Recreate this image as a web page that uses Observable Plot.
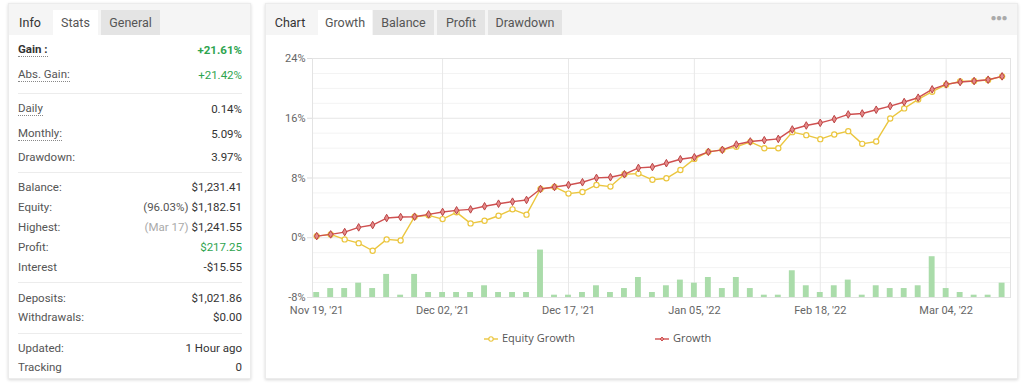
<!DOCTYPE html>
<html><head><meta charset="utf-8">
<script src="https://cdn.jsdelivr.net/npm/d3@7"></script>
<script src="https://cdn.jsdelivr.net/npm/@observablehq/plot@0.6"></script>
<style>
body{margin:0;background:#fff;font-family:Roboto,sans-serif;width:1024px;height:383px;overflow:hidden;position:relative}
.panel{position:absolute;background:#fff;box-shadow:0 1px 3px rgba(0,0,0,.16);border:1px solid #ececec;box-sizing:border-box}
.tabbar{position:absolute;left:0;right:0;top:0;height:31px;background:#f5f5f5}
.tab{position:absolute;top:6px;height:25px;line-height:25px;font-size:12.5px;color:#555;text-align:center}
.tab.active{background:#fff}
.tab.off{background:#e4e4e4}
.tab.title{color:#333}
.row{position:absolute;left:9px;right:8px;height:16px;line-height:16px;font-size:11.5px}
.row .l{position:absolute;left:0;color:#555}
.row .v{position:absolute;right:0;color:#333}
.row .l.u{border-bottom:1px dotted #888;line-height:14px}
.row .l.b{font-weight:bold;color:#333}
.green{color:#2ea44f !important}
.sep{position:absolute;left:9px;right:8px;height:1px;background:#ececec}
.dots{position:absolute;right:10px;top:8px;font-size:10px;color:#aaa;letter-spacing:-0.5px}
#legend{position:absolute;top:330px;left:0;width:1024px;height:16px;font-family:"Open Sans",sans-serif;font-size:11px;color:#555}
#legend .item{position:absolute;top:0;height:16px;line-height:16px}
#legend svg{vertical-align:middle;margin-right:4px}
</style></head>
<body>
<div class="panel" id="left" style="left:8px;top:3px;width:243px;height:376px"></div>
<div class="panel" id="right" style="left:265px;top:3px;width:753px;height:376px"></div>
<div id="chart" style="position:absolute;left:265px;top:45px"></div>
<div id="legend"></div>
<script>
// ---------- data ----------
const growth = [0.22,0.45,0.76,1.39,1.70,2.64,2.77,2.82,3.13,3.45,3.67,3.80,4.21,4.56,4.83,5.06,6.53,6.80,7.07,7.43,8.01,8.10,8.50,9.35,9.47,9.98,10.51,10.78,11.50,11.77,12.48,12.89,13.06,13.24,14.50,15.03,15.39,15.88,16.51,16.64,17.14,17.63,18.17,18.75,19.87,20.54,20.85,20.98,21.16,21.61];
const equityGrowth = [0.22,0.45,-0.22,-0.72,-1.74,-0.22,-0.36,2.82,3.0,2.5,3.40,1.92,2.28,2.95,3.80,3.09,6.53,6.80,5.91,6.13,7.07,6.85,8.50,8.59,7.76,7.96,9.08,10.56,11.50,11.77,12.17,12.84,11.99,11.99,14.14,13.74,13.20,13.83,14.27,12.57,12.89,15.97,17.32,18.52,19.55,20.49,20.94,20.98,21.12,21.61];
const dailyBars = [0.67,1.2,1.2,1.92,1.2,3.09,0.31,3.09,0.67,0.67,0.67,0.67,1.57,0.67,0.67,0.67,6.35,0.31,0.31,0.67,1.57,0.67,1.2,2.68,0.67,1.57,2.33,1.92,2.68,1.2,2.68,1.2,0.31,0.31,3.58,1.57,0.67,1.57,2.33,0.31,1.57,1.2,1.2,1.57,5.46,1.2,0.67,0.31,0.31,1.92];
const tickIndex = [0,9,18,27,36,45];
const tickLabels = ["Nov 19, '21","Dec 02, '21","Dec 17, '21","Jan 05, '22","Feb 18, '22","Mar 04, '22"];
const yTicks = [-8,0,8,16,24];
const yMinor = [-6,-4,-2,2,4,6,10,12,14,18,20,22];
const seriesNames = ["Equity Growth","Growth"];

const leftTabs = ["Info","Stats","General"];
const rightTabs = ["Chart","Growth","Balance","Profit","Drawdown"];
const statLabels = ["Gain :","Abs. Gain:","Daily","Monthly:","Drawdown:","Balance:","Equity:","Highest:","Profit:","Interest","Deposits:","Withdrawals:","Updated:","Tracking"];
const statValues = ["+21.61%","+21.42%","0.14%","5.09%","3.97%","$1,231.41","$1,182.51","$1,241.55","$217.25","-$15.55","$1,021.86","$0.00","1 Hour ago","0"];
const statNotes = ["","","","","","","(96.03%)","(Mar 17)","","","","","",""];

// ---------- layout helpers ----------
function el(tag, cls, parent, style, text){const e=document.createElement(tag); if(cls) e.className=cls; if(style) e.setAttribute("style",style); if(text!=null) e.textContent=text; parent.appendChild(e); return e;}

// left panel
const L = document.getElementById("left");
const lb = el("div","tabbar",L);
const ltabPos = [[4,34],[44,45],[92,59]];
leftTabs.forEach((t,i)=>{el("div","tab "+(i===0?"title":i===1?"active":"off"),lb,`left:${ltabPos[i][0]}px;width:${ltabPos[i][1]}px`,t);});
const rowY = [38,63,97,122,145,175,195,215,235,255,286,305,336,355];
const underlined = [0,1,2,3];
statLabels.forEach((lab,i)=>{
  const r = el("div","row",L,`top:${rowY[i]}px`);
  el("span","l"+(underlined.includes(i)?" u":"")+(i===0?" b":""),r,null,lab);
  const v = el("span","v",r,null,"");
  if(statNotes[i]) el("span",null,v,`color:${i===7?"#aaa":"#555"};margin-right:3px`,statNotes[i]);
  el("span",null,v,null,statValues[i]);
  if(i===0){v.style.fontWeight="bold"; v.classList.add("green");}
  if(i===1||i===8) v.classList.add("green");
});
[89,168,278,329].forEach(y=>el("div","sep",L,`top:${y}px`));

// right panel
const R = document.getElementById("right");
const rb = el("div","tabbar",R);
const rtabPos = [[4,40],[52,54],[107,61],[171,48],[222,74]];
rightTabs.forEach((t,i)=>{el("div","tab "+(i===0?"title":i===1?"active":"off"),rb,`left:${rtabPos[i][0]}px;width:${rtabPos[i][1]}px`,t);});
el("div","dots",rb,null,"●●●");

// ---------- chart ----------
const idx = d3.range(growth.length);
const yellow = "#ebc63f", red = "#cf5050", green = "#aadcaa";
const chart = Plot.plot({
  width: 750, height: 277,
  marginLeft: 47, marginRight: 5, marginTop: 13, marginBottom: 25,
  style: {fontFamily: "Roboto", fontSize: "11px", color: "#666", background: "transparent"},
  x: {domain: [-0.3, 49.6], axis: null},
  y: {domain: [-8, 24], axis: null},
  marks: [
    Plot.ruleY(yMinor, {stroke: "#f3f3f3"}),
    Plot.ruleY(yTicks, {stroke: "#e6e6e6"}),
    Plot.ruleX(tickIndex.slice(1), {stroke: "#e8e8e8"}),
    Plot.frame({stroke: "#e3e3e3"}),
    Plot.axisY({ticks: yTicks, tickFormat: d => d + "%", tickSize: 5, stroke: "#ddd", fill: "#666", tickPadding: 2, label: null}),
    Plot.axisX({ticks: tickIndex, tickFormat: i => tickLabels[tickIndex.indexOf(i)], tickSize: 0, tickPadding: 9, fill: "#666", label: null}),
    Plot.rect(idx, {x1: i => i - 0.21, x2: i => i + 0.21, y1: -8, y2: i => -8 + dailyBars[i], fill: green}),
    Plot.line(idx, {x: i => i, y: i => equityGrowth[i], stroke: yellow, strokeWidth: 1.4}),
    Plot.dot(idx, {x: i => i, y: i => equityGrowth[i], r: 2.6, stroke: yellow, fill: "white", strokeWidth: 1.2}),
    Plot.line(idx, {x: i => i, y: i => growth[i], stroke: red, strokeWidth: 1.4}),
    Plot.dot(idx, {x: i => i, y: i => growth[i], r: 2.3, symbol: "diamond", stroke: "#bb4444", fill: "#e58a8a", strokeWidth: 1})
  ]
});
document.getElementById("chart").appendChild(chart);

// ---------- legend ----------
const lg = document.getElementById("legend");
const legendX = [484, 655];
const legendColors = [[yellow,"white","circle"],[red,"#e58a8a","diamond"]];
seriesNames.forEach((name,i)=>{
  const it = el("div","item",lg,`left:${legendX[i]}px`);
  const [c,f,s] = legendColors[i];
  const mark = s==="circle" ? `<circle cx="7" cy="6" r="2.2" fill="${f}" stroke="${c}" stroke-width="1.1"/>` : `<path d="M7 4 L9 6 L7 8 L5 6 Z" fill="${f}" stroke="${c}" stroke-width="1"/>`;
  it.innerHTML = `<svg width="14" height="12"><line x1="0" x2="14" y1="6" y2="6" stroke="${c}" stroke-width="1.4"/>${mark}</svg>`;
  el("span",null,it,null,name);
});
</script>
</body></html>
